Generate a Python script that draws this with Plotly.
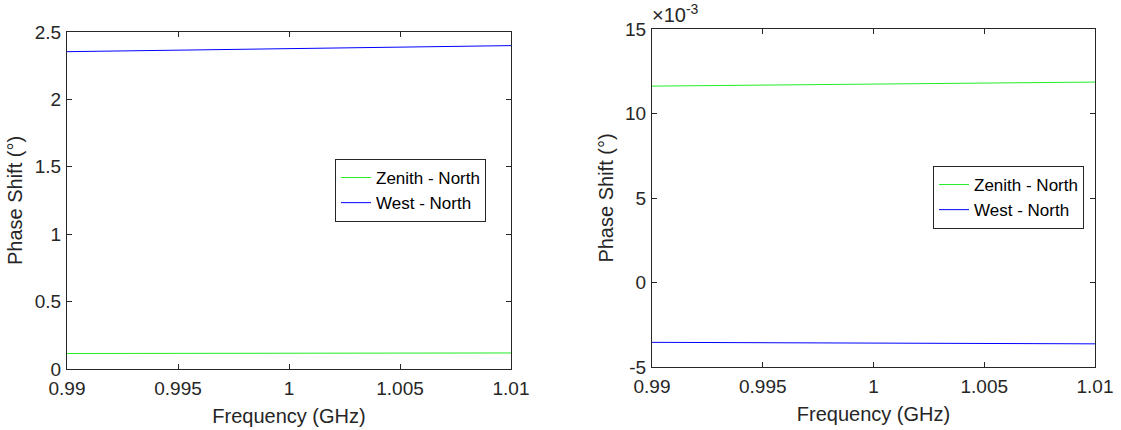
import plotly.graph_objects as go

# ---- data ----
freq_ghz = [0.99, 0.995, 1.0, 1.005, 1.01]

left_zenith_north = [0.115, 0.116, 0.117, 0.118, 0.119]
left_west_north = [2.354, 2.366, 2.377, 2.388, 2.399]

right_zenith_north = [0.01162, 0.01168, 0.01174, 0.01180, 0.01186]
right_west_north = [-0.00354, -0.00357, -0.00359, -0.00361, -0.00363]

x_ticks = [0.99, 0.995, 1.0, 1.005, 1.01]
x_ticktext = ["0.99", "0.995", "1", "1.005", "1.01"]
left_y_ticks = [0, 0.5, 1, 1.5, 2, 2.5]
left_y_ticktext = ["0", "0.5", "1", "1.5", "2", "2.5"]
right_y_ticks = [-0.005, 0, 0.005, 0.010, 0.015]
right_y_ticktext = ["-5", "0", "5", "10", "15"]

GREEN = "#22ee22"
BLUE = "#0000ff"
AX = "#262626"
FONT = "Liberation Sans, Arial, sans-serif"

fig = go.Figure()
fig.add_trace(go.Scatter(x=freq_ghz, y=left_zenith_north, mode="lines", name="Zenith - North",
                         line=dict(color=GREEN, width=1), xaxis="x", yaxis="y", legend="legend"))
fig.add_trace(go.Scatter(x=freq_ghz, y=left_west_north, mode="lines", name="West - North",
                         line=dict(color=BLUE, width=1), xaxis="x", yaxis="y", legend="legend"))
fig.add_trace(go.Scatter(x=freq_ghz, y=right_zenith_north, mode="lines", name="Zenith - North",
                         line=dict(color=GREEN, width=1), xaxis="x2", yaxis="y2", legend="legend2"))
fig.add_trace(go.Scatter(x=freq_ghz, y=right_west_north, mode="lines", name="West - North",
                         line=dict(color=BLUE, width=1), xaxis="x2", yaxis="y2", legend="legend2"))

W, H = 1121, 430
# pixel boxes of the plot areas
L = dict(x0=67, x1=511, y0=32, y1=369)
R = dict(x0=652, x1=1095, y0=29, y1=367)


def xdom(b):
    return [b["x0"] / W, b["x1"] / W]


def ydom(b):
    return [(H - b["y1"]) / H, (H - b["y0"]) / H]


common_axis = dict(showline=True, linecolor=AX, linewidth=1, mirror="allticks",
                   ticks="inside", ticklen=5, tickcolor=AX, showgrid=False, zeroline=False,
                   tickfont=dict(family=FONT, size=19, color=AX))

TITLE_FONT = dict(family=FONT, size=20, color=AX)

fig.update_layout(
    width=W, height=H,
    margin=dict(l=0, r=0, t=0, b=0),
    paper_bgcolor="white", plot_bgcolor="white",
    font=dict(family=FONT, color=AX),
    xaxis=dict(domain=xdom(L), range=[0.99, 1.01], tickvals=x_ticks, ticktext=x_ticktext,
               anchor="y", title=dict(text="Frequency (GHz)", font=TITLE_FONT, standoff=11),
               ticklabelstandoff=2, automargin=False, **common_axis),
    yaxis=dict(domain=ydom(L), range=[0, 2.5], tickvals=left_y_ticks, ticktext=left_y_ticktext,
               anchor="x", title=dict(text="Phase Shift (°)", font=TITLE_FONT, standoff=6),
               ticklabelstandoff=1, automargin=False, **common_axis),
    xaxis2=dict(domain=xdom(R), range=[0.99, 1.01], tickvals=x_ticks, ticktext=x_ticktext,
                anchor="y2", title=dict(text="Frequency (GHz)", font=TITLE_FONT, standoff=11),
                ticklabelstandoff=2, automargin=False, **common_axis),
    yaxis2=dict(domain=ydom(R), range=[-0.005, 0.015], tickvals=right_y_ticks, ticktext=right_y_ticktext,
                anchor="x2", title=dict(text="Phase Shift (°)", font=TITLE_FONT, standoff=6),
                ticklabelstandoff=1, automargin=False, **common_axis),
    legend=dict(x=486 / W, y=(H - 159) / H, xanchor="right", yanchor="top",
                bgcolor="white", bordercolor=AX, borderwidth=1,
                font=dict(family=FONT, size=17, color="black"), tracegroupgap=0,
                itemwidth=30),
    legend2=dict(x=1084 / W, y=(H - 166) / H, xanchor="right", yanchor="top",
                 bgcolor="white", bordercolor=AX, borderwidth=1,
                 font=dict(family=FONT, size=17, color="black"), tracegroupgap=0,
                 itemwidth=30),
    showlegend=True,
    annotations=[dict(text="×10<sup>-3</sup>", x=(R["x0"] - 2) / W, y=(H - R["y0"] + 1) / H,
                      xref="paper", yref="paper", xanchor="left", yanchor="bottom",
                      showarrow=False, font=dict(family=FONT, size=20, color=AX))],
)

fig.write_html("out.html")
